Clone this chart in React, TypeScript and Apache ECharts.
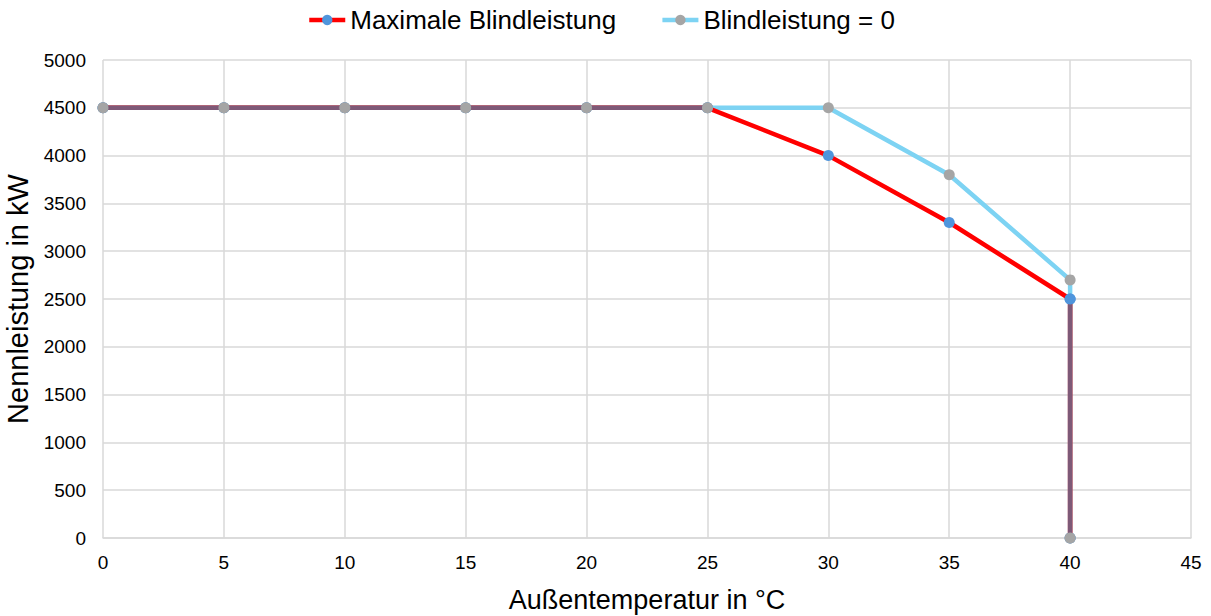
import React, { useEffect, useRef } from "react";
import * as echarts from "echarts";

const temps = [0, 5, 10, 15, 20, 25, 30, 35, 40, 40];
const maxBlind = [4500, 4500, 4500, 4500, 4500, 4500, 4000, 3300, 2500, 0];
const zeroBlind = [4500, 4500, 4500, 4500, 4500, 4500, 4500, 3800, 2700, 0];
const xTicks = [0, 5, 10, 15, 20, 25, 30, 35, 40, 45];
const yTicks = [0, 500, 1000, 1500, 2000, 2500, 3000, 3500, 4000, 4500, 5000];

const RED = "#FF0000";
const LIGHTBLUE = "#7DD3F3";
const BLUE_DOT = "#4F95DC";
const GRAY_DOT = "#A5A5A5";
const PURPLE = "#7E5977";
const FONT = "Liberation Sans, Arial, sans-serif";

export default function App() {
  const ref = useRef<HTMLDivElement>(null);
  useEffect(() => {
    if (!ref.current) return;
    const chart = echarts.init(ref.current, undefined, { renderer: "svg" });
    const maxData = temps.map((t, i) => [t, maxBlind[i]]);
    const zeroData = temps.map((t, i) => [t, zeroBlind[i]]);
    // Overlap where both curves coincide (drawn in the blended purple)
    const overlap: any[] = temps.map((t, i) => {
      if (maxBlind[i] === zeroBlind[i]) {
        return { value: [t, maxBlind[i]], itemStyle: { color: GRAY_DOT } };
      }
      if (i > 0 && temps[i] === temps[i - 1]) return [t, maxBlind[i]];
      if (i + 1 < temps.length && temps[i] === temps[i + 1]) {
        return { value: [t, maxBlind[i]], itemStyle: { color: BLUE_DOT } };
      }
      return [t, null];
    });
    chart.setOption({
      animation: false,
      textStyle: { fontFamily: FONT },
      legend: {
        top: 2,
        left: 302,
        itemGap: 44,
        itemWidth: 36,
        itemHeight: 13,
        lineStyle: { width: 4.5 },
        textStyle: { fontSize: 26, color: "#000", fontFamily: FONT },
        data: ["Maximale Blindleistung", "Blindleistung = 0"],
      },
      grid: {
        left: 103,
        right: 20,
        top: 60,
        bottom: 78,
        containLabel: false,
        outerBoundsMode: "none",
      },
      xAxis: {
        type: "value",
        min: 0,
        max: 45,
        interval: 5,
        name: "Außentemperatur in °C",
        nameLocation: "middle",
        nameGap: 48,
        nameTextStyle: { fontSize: 27, color: "#000", fontFamily: FONT },
        axisLine: { show: true, lineStyle: { color: "#D9D9D9", width: 1.5 } },
        axisTick: { show: false },
        axisLabel: {
          fontSize: 19,
          color: "#000",
          margin: 15,
          formatter: (v: number) => (xTicks.includes(v) ? String(v) : ""),
        },
        splitLine: { show: true, lineStyle: { color: "#D9D9D9", width: 1.5 } },
      },
      yAxis: {
        type: "value",
        min: 0,
        max: 5000,
        interval: 500,
        name: "Nennleistung in kW",
        nameLocation: "middle",
        nameGap: 62,
        nameTextStyle: { fontSize: 29, color: "#000", fontFamily: FONT },
        axisLine: { show: false },
        axisTick: { show: false },
        axisLabel: {
          fontSize: 19,
          color: "#000",
          margin: 17,
          formatter: (v: number) => (yTicks.includes(v) ? String(v) : ""),
        },
        splitLine: { show: true, lineStyle: { color: "#D9D9D9", width: 1.5 } },
      },
      series: [
        {
          name: "Blindleistung = 0",
          type: "line",
          data: zeroData,
          z: 2,
          symbol: "circle",
          symbolSize: 11,
          lineStyle: { color: LIGHTBLUE, width: 4.5 },
          itemStyle: { color: GRAY_DOT, borderWidth: 0 },
        },
        {
          name: "Maximale Blindleistung",
          type: "line",
          data: maxData,
          z: 3,
          symbol: "circle",
          symbolSize: 11,
          lineStyle: { color: RED, width: 4.5 },
          itemStyle: { color: BLUE_DOT, borderWidth: 0 },
        },
        {
          name: "overlap",
          type: "line",
          data: overlap,
          z: 4,
          connectNulls: false,
          symbol: "circle",
          symbolSize: 11,
          lineStyle: { color: PURPLE, width: 4.5 },
          itemStyle: { color: GRAY_DOT, borderWidth: 0 },
        },
      ],
    });
    return () => chart.dispose();
  }, []);
  return (
    <div
      ref={ref}
      style={{ position: "absolute", left: 0, top: 0, width: 1211, height: 616 }}
    />
  );
}
